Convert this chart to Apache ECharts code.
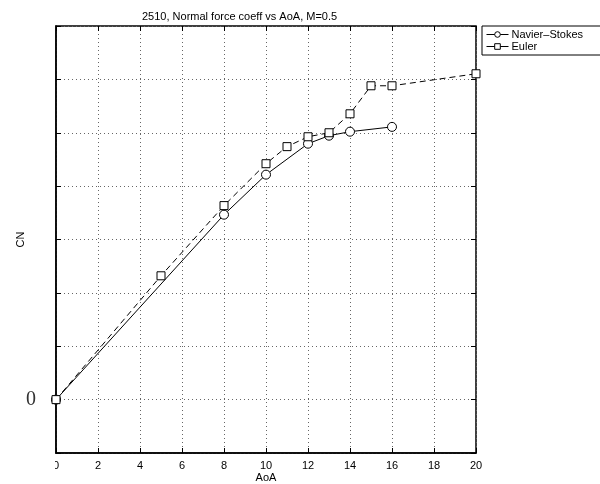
<!DOCTYPE html>
<html>
<head>
<meta charset="utf-8">
<script src="https://cdn.jsdelivr.net/npm/echarts@6/dist/echarts.min.js"></script>
<style>html,body{margin:0;padding:0;background:#fff}#c{width:600px;height:484px}</style>
</head>
<body>
<div id="c"></div>
<script>
const titleText = "2510, Normal force coeff vs AoA, M=0.5";
const xTicks = [0, 2, 4, 6, 8, 10, 12, 14, 16, 18, 20];
const nsAoA = [0, 8, 10, 12, 13, 14, 16];
const nsCN = [0, 0.693, 0.843, 0.959, 0.989, 1.004, 1.022];
const eulerAoA = [0, 5, 8, 10, 11, 12, 13, 14, 15, 16, 20];
const eulerCN = [0, 0.464, 0.727, 0.884, 0.948, 0.985, 1.0, 1.071, 1.176, 1.176, 1.221];
const seriesNames = ["Navier\u2013Stokes", "Euler"];

const chart = echarts.init(document.getElementById('c'), null, {renderer: 'canvas'});
const sans = 'Liberation Sans, Arial, sans-serif';
const pair = (xs, ys) => xs.map((x, i) => [x, ys[i]]);
const grid = {color: '#666', type: [1, 3], width: 1};
const tick = {inside: true, length: 5, lineStyle: {color: '#000'}};
const mark = {color: '#fff', borderColor: '#000', borderWidth: 1};
chart.setOption({
  animation: false,
  backgroundColor: '#fff',
  title: {text: titleText, left: 137, top: 6, textStyle: {fontFamily: sans, fontSize: 11, fontWeight: 'normal', color: '#000'}},
  legend: {
    orient: 'vertical', left: 482, top: 26, itemGap: 1, itemWidth: 22, itemHeight: 7,
    borderColor: '#000', borderWidth: 1, padding: [3, 60, 3, 4],
    textStyle: {fontFamily: sans, fontSize: 11, color: '#000', padding: [0, 0, 0, -2]},
    data: [
      {name: seriesNames[0], lineStyle: {width: 1}, itemStyle: mark},
      {name: seriesNames[1], lineStyle: {width: 1, type: 'solid'}, itemStyle: mark}
    ]
  },
  grid: {left: 56, right: 124, top: 26, bottom: 31, show: true, borderColor: '#000', borderWidth: 1.5, containLabel: false, outerBoundsMode: 'none'},
  xAxis: [{
    type: 'value', min: 0, max: 20, interval: 2,
    name: 'AoA', nameLocation: 'middle', nameGap: 19, nameMoveOverlap: false,
    nameTextStyle: {fontFamily: sans, fontSize: 11, color: '#000'},
    axisLine: {onZero: false, lineStyle: {color: '#000', width: 1.5}},
    axisTick: tick,
    axisLabel: {fontFamily: sans, fontSize: 11, color: '#000', margin: 7},
    splitLine: {show: true, lineStyle: grid}
  }, {
    type: 'value', position: 'top', min: 0, max: 20, interval: 2,
    axisLine: {show: false, onZero: false}, axisTick: tick,
    axisLabel: {show: false}, splitLine: {show: false}
  }],
  yAxis: [{
    type: 'value', min: -0.2, max: 1.4, interval: 0.2,
    name: 'CN', nameLocation: 'middle', nameGap: 30, nameRotate: 90, nameMoveOverlap: false,
    nameTextStyle: {fontFamily: sans, fontSize: 11, color: '#000'},
    axisLine: {onZero: false, lineStyle: {color: '#000', width: 1.5}},
    axisTick: tick,
    axisLabel: {
      fontFamily: 'Liberation Serif, Times New Roman, serif', fontSize: 20, color: '#333', margin: 20,
      formatter: v => (Math.abs(v) < 1e-9 ? '0' : '')
    },
    splitLine: {show: true, lineStyle: grid}
  }, {
    type: 'value', position: 'right', min: -0.2, max: 1.4, interval: 0.2,
    axisLine: {show: false, onZero: false}, axisTick: tick,
    axisLabel: {show: false}, splitLine: {show: false}
  }],
  series: [{
    name: seriesNames[0], type: 'line', data: pair(nsAoA, nsCN),
    symbol: 'circle', symbolSize: 9,
    lineStyle: {color: '#000', width: 1}, itemStyle: mark
  }, {
    name: seriesNames[1], type: 'line', data: pair(eulerAoA, eulerCN),
    symbol: 'rect', symbolSize: 8,
    lineStyle: {color: '#000', width: 1, type: [6, 4]}, itemStyle: mark
  }],
  graphic: [{type: 'rect', shape: {x: 42, y: 458, width: 13, height: 16}, style: {fill: '#fff'}, z: 100}]
});
</script>
</body>
</html>
